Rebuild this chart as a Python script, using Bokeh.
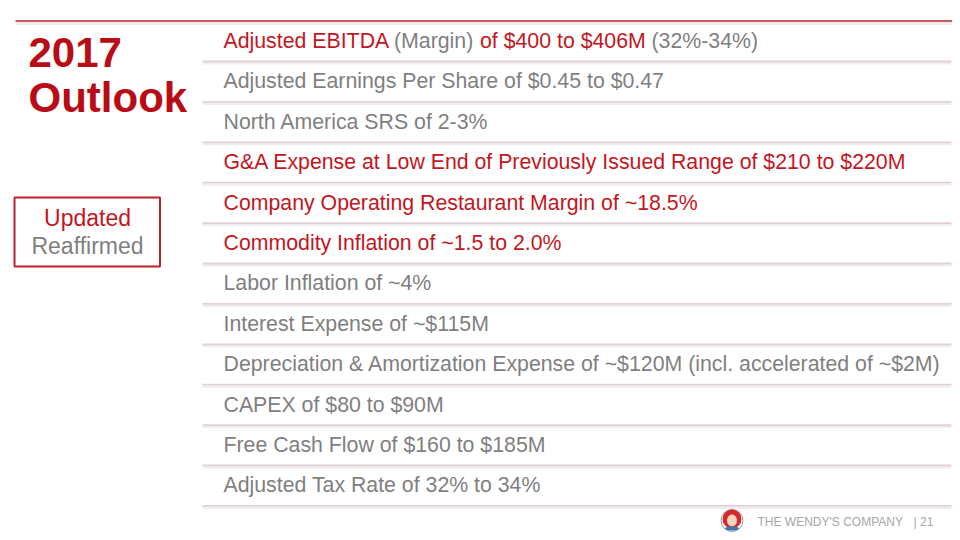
from bokeh.plotting import figure
from bokeh.models import Range1d, ColumnDataSource
from bokeh.core.properties import value
from bokeh.embed import file_html
from bokeh.resources import INLINE

# ---- content ----
title_lines = ["2017", "Outlook"]
legend_labels = ["Updated", "Reaffirmed"]
row_texts = [
    "Adjusted EBITDA (Margin) of $400 to $406M (32%-34%)",
    "Adjusted Earnings Per Share of $0.45 to $0.47",
    "North America SRS of 2-3%",
    "G&A Expense at Low End of Previously Issued Range of $210 to $220M",
    "Company Operating Restaurant Margin of ~18.5%",
    "Commodity Inflation of ~1.5 to 2.0%",
    "Labor Inflation of ~4%",
    "Interest Expense of ~$115M",
    "Depreciation & Amortization Expense of ~$120M (incl. accelerated of ~$2M)",
    "CAPEX of $80 to $90M",
    "Free Cash Flow of $160 to $185M",
    "Adjusted Tax Rate of 32% to 34%",
]
row_status = ["mixed", "reaffirmed", "reaffirmed", "updated", "updated", "updated",
              "reaffirmed", "reaffirmed", "reaffirmed", "reaffirmed", "reaffirmed", "reaffirmed"]
row1_segments = ["Adjusted EBITDA", "(Margin)", "of $400 to $406M", "(32%-34%)"]
row1_status = ["updated", "reaffirmed", "updated", "reaffirmed"]
footer_company = "THE WENDY'S COMPANY"
footer_page = "| 21"

RED = "#C3161E"
TITLE_RED = "#BA0C15"
GRAY = "#7F7F7F"
SEP = "#E4D0D1"
FONT = "Liberation Sans"
color_of = {"updated": RED, "reaffirmed": GRAY}

W, H = 952, 532
p = figure(width=W, height=H, x_range=Range1d(0, W), y_range=Range1d(H, 0),
           output_backend="svg", toolbar_location=None, min_border=0)
p.axis.visible = False
p.grid.visible = False
p.outline_line_color = None
p.background_fill_color = "white"

# top rule
p.segment(x0=[15], y0=[23], x1=[W], y1=[23], line_color="#EDEDED", line_width=3)
p.segment(x0=[15], y0=[20.5], x1=[W], y1=[20.5], line_color="#B8202A", line_width=1.6)

# title
p.text(x=[28, 28], y=[52, 97], text=title_lines, text_color=TITLE_RED,
       text_font=value(FONT), text_font_style="bold", text_font_size="42px",
       text_baseline="alphabetic", text_align="left")

# rows
n = len(row_texts)
sep_y = [61 + 40.4 * i for i in range(n)]
base_y = [s - 20.5 for s in sep_y]
p.segment(x0=[202] * n, y0=[s + 2 for s in sep_y], x1=[951] * n, y1=[s + 2 for s in sep_y],
          line_color="#EEEEEE", line_width=2)
p.segment(x0=[202] * n, y0=sep_y, x1=[951] * n, y1=sep_y, line_color=SEP, line_width=1.8)

plain_idx = [i for i in range(n) if row_status[i] != "mixed"]
src = ColumnDataSource(dict(
    x=[223] * len(plain_idx),
    y=[base_y[i] for i in plain_idx],
    t=[row_texts[i] for i in plain_idx],
    c=[color_of[row_status[i]] for i in plain_idx],
))
p.text(x="x", y="y", text="t", text_color="c", source=src, text_font=value(FONT),
       text_font_size="21.3px", text_baseline="alphabetic", text_align="left")

seg_x = [223, 393.5, 479.5, 651]
p.text(x=seg_x, y=[base_y[0]] * 4, text=row1_segments,
       text_color=[color_of[s] for s in row1_status], text_font=value(FONT),
       text_font_size="21.3px", text_baseline="alphabetic", text_align="left")

# legend box
p.quad(left=[14], right=[159.5], top=[197], bottom=[266], fill_color=None,
       line_color="#BE1E2D", line_width=2)
p.text(x=[87, 87], y=[217, 245], text=legend_labels, text_color=[RED, GRAY],
       text_font=value(FONT), text_font_size="23px", text_baseline="alphabetic",
       text_align="center")

# footer
p.text(x=[757], y=[521], text=[footer_company], text_color="#A6A6A6",
       text_font=value(FONT), text_font_size="12px", text_baseline="alphabetic")
p.text(x=[913], y=[521], text=[footer_page], text_color="#A6A6A6",
       text_font=value(FONT), text_font_size="12px", text_baseline="alphabetic")

# logo
p.ellipse(x=[731.5], y=[520], width=[22], height=[22], fill_color="#FFFFFF",
          line_color="#9A9A9A", line_width=1)
p.ellipse(x=[731.5], y=[518.5], width=[19], height=[19], fill_color="#D42A2F", line_color=None)
p.ellipse(x=[731.5], y=[520], width=[10], height=[12], fill_color="#F7D5BC", line_color=None)
p.ellipse(x=[731.5], y=[528], width=[14], height=[4], fill_color="#3C78B5", line_color=None)

open("out.html", "w").write(file_html(p, INLINE))
